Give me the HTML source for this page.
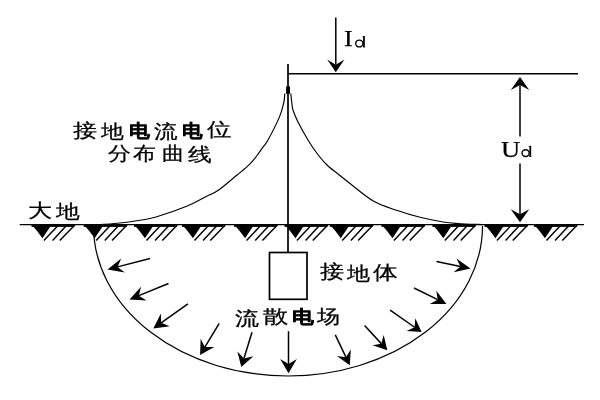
<!DOCTYPE html><html><head><meta charset="utf-8"><style>
html,body{margin:0;padding:0;background:#fff;}
body{width:600px;height:400px;position:relative;overflow:hidden;font-family:"Liberation Sans",sans-serif;color:#000;}
.c{position:absolute;white-space:nowrap;line-height:1;transform-origin:0 0;-webkit-text-stroke:0.25px #000;will-change:transform;}
.s{font-family:"Liberation Serif",serif;}
</style></head><body><svg width="600" height="400" viewBox="0 0 600 400" style="position:absolute;left:0;top:0">
<g stroke="#000" fill="#000" stroke-linecap="butt">
<line x1="288" y1="73.8" x2="578" y2="73.8" stroke-width="1.6"/>
<line x1="288" y1="64" x2="288" y2="252.5" stroke-width="1.7"/>
<rect x="286.1" y="86.4" width="3.9" height="7.4" stroke="none"/>
<path d="M284.80,93.50 C284.63,95.00 284.70,98.57 283.80,102.50 C282.90,106.43 282.03,110.85 279.40,117.10 C276.77,123.35 270.68,135.07 268.00,140.00 C265.32,144.93 265.18,144.03 263.30,146.70 C261.42,149.37 259.03,153.00 256.70,156.00 C254.37,159.00 252.63,161.48 249.30,164.70 C245.97,167.92 241.80,171.08 236.70,175.30 C231.60,179.52 223.70,186.50 218.70,190.00 C213.70,193.50 212.03,193.58 206.70,196.30 C201.37,199.02 195.15,202.85 186.70,206.30 C178.25,209.75 163.78,214.67 156.00,217.00 C148.22,219.33 144.83,219.42 140.00,220.30 C135.17,221.18 131.67,221.72 127.00,222.30 C122.33,222.88 116.83,223.42 112.00,223.80 C107.17,224.18 100.33,224.47 98.00,224.60" fill="none" stroke-width="1.15"/>
<path d="M290.80,93.50 C290.97,95.00 291.43,99.75 291.80,102.50 C292.17,105.25 291.97,106.75 293.00,110.00 C294.03,113.25 295.50,117.00 298.00,122.00 C300.50,127.00 305.00,135.00 308.00,140.00 C311.00,145.00 313.00,148.00 316.00,152.00 C319.00,156.00 322.33,160.33 326.00,164.00 C329.67,167.67 334.00,170.75 338.00,174.00 C342.00,177.25 344.12,179.00 350.00,183.50 C355.88,188.00 365.53,196.53 373.30,201.00 C381.07,205.47 388.82,207.58 396.60,210.30 C404.38,213.02 412.23,215.35 420.00,217.30 C427.77,219.25 436.87,220.97 443.20,222.00 C449.53,223.03 451.53,223.07 458.00,223.50 C464.47,223.93 478.00,224.42 482.00,224.60" fill="none" stroke-width="1.15"/>
<line x1="19.7" y1="224.60" x2="584" y2="224.60" stroke-width="1.4"/>
<path d="M31.50,224.60 Q37.30,231.00 42.50,238.20 L51.70,224.60 Z" stroke="none"/><rect x="31.50" y="224.60" width="43.00" height="2.3" stroke="none"/><line x1="58.50" y1="225.10" x2="43.90" y2="240.50" stroke-width="1.45"/><line x1="66.90" y1="225.10" x2="52.60" y2="240.50" stroke-width="1.45"/><line x1="74.80" y1="225.10" x2="59.80" y2="240.50" stroke-width="1.45"/><path d="M83.70,224.60 Q89.50,231.00 94.70,238.20 L103.90,224.60 Z" stroke="none"/><rect x="83.70" y="224.60" width="43.00" height="2.3" stroke="none"/><line x1="110.70" y1="225.10" x2="96.10" y2="240.50" stroke-width="1.45"/><line x1="119.10" y1="225.10" x2="104.80" y2="240.50" stroke-width="1.45"/><line x1="127.00" y1="225.10" x2="112.00" y2="240.50" stroke-width="1.45"/><path d="M134.00,224.60 Q139.80,231.00 145.00,238.20 L154.20,224.60 Z" stroke="none"/><rect x="134.00" y="224.60" width="43.00" height="2.3" stroke="none"/><line x1="161.00" y1="225.10" x2="146.40" y2="240.50" stroke-width="1.45"/><line x1="169.40" y1="225.10" x2="155.10" y2="240.50" stroke-width="1.45"/><line x1="177.30" y1="225.10" x2="162.30" y2="240.50" stroke-width="1.45"/><path d="M182.00,224.60 Q187.80,231.00 193.00,238.20 L202.20,224.60 Z" stroke="none"/><rect x="182.00" y="224.60" width="43.00" height="2.3" stroke="none"/><line x1="209.00" y1="225.10" x2="194.40" y2="240.50" stroke-width="1.45"/><line x1="217.40" y1="225.10" x2="203.10" y2="240.50" stroke-width="1.45"/><line x1="225.30" y1="225.10" x2="210.30" y2="240.50" stroke-width="1.45"/><path d="M234.10,224.60 Q239.90,231.00 245.10,238.20 L254.30,224.60 Z" stroke="none"/><rect x="234.10" y="224.60" width="43.00" height="2.3" stroke="none"/><line x1="261.10" y1="225.10" x2="246.50" y2="240.50" stroke-width="1.45"/><line x1="269.50" y1="225.10" x2="255.20" y2="240.50" stroke-width="1.45"/><line x1="277.40" y1="225.10" x2="262.40" y2="240.50" stroke-width="1.45"/><path d="M284.50,224.60 Q290.30,231.00 295.50,238.20 L304.70,224.60 Z" stroke="none"/><rect x="284.50" y="224.60" width="43.00" height="2.3" stroke="none"/><line x1="311.50" y1="225.10" x2="296.90" y2="240.50" stroke-width="1.45"/><line x1="319.90" y1="225.10" x2="305.60" y2="240.50" stroke-width="1.45"/><line x1="327.80" y1="225.10" x2="312.80" y2="240.50" stroke-width="1.45"/><path d="M329.80,224.60 Q335.60,231.00 340.80,238.20 L350.00,224.60 Z" stroke="none"/><rect x="329.80" y="224.60" width="43.00" height="2.3" stroke="none"/><line x1="356.80" y1="225.10" x2="342.20" y2="240.50" stroke-width="1.45"/><line x1="365.20" y1="225.10" x2="350.90" y2="240.50" stroke-width="1.45"/><line x1="373.10" y1="225.10" x2="358.10" y2="240.50" stroke-width="1.45"/><path d="M381.50,224.60 Q387.30,231.00 392.50,238.20 L401.70,224.60 Z" stroke="none"/><rect x="381.50" y="224.60" width="43.00" height="2.3" stroke="none"/><line x1="408.50" y1="225.10" x2="393.90" y2="240.50" stroke-width="1.45"/><line x1="416.90" y1="225.10" x2="402.60" y2="240.50" stroke-width="1.45"/><line x1="424.80" y1="225.10" x2="409.80" y2="240.50" stroke-width="1.45"/><path d="M432.40,224.60 Q438.20,231.00 443.40,238.20 L452.60,224.60 Z" stroke="none"/><rect x="432.40" y="224.60" width="43.00" height="2.3" stroke="none"/><line x1="459.40" y1="225.10" x2="444.80" y2="240.50" stroke-width="1.45"/><line x1="467.80" y1="225.10" x2="453.50" y2="240.50" stroke-width="1.45"/><line x1="475.70" y1="225.10" x2="460.70" y2="240.50" stroke-width="1.45"/><path d="M484.50,224.60 Q490.30,231.00 495.50,238.20 L504.70,224.60 Z" stroke="none"/><rect x="484.50" y="224.60" width="43.00" height="2.3" stroke="none"/><line x1="511.50" y1="225.10" x2="496.90" y2="240.50" stroke-width="1.45"/><line x1="519.90" y1="225.10" x2="505.60" y2="240.50" stroke-width="1.45"/><line x1="527.80" y1="225.10" x2="512.80" y2="240.50" stroke-width="1.45"/><path d="M534.00,224.60 Q539.80,231.00 545.00,238.20 L554.20,224.60 Z" stroke="none"/><rect x="534.00" y="224.60" width="43.00" height="2.3" stroke="none"/><line x1="561.00" y1="225.10" x2="546.40" y2="240.50" stroke-width="1.45"/><line x1="569.40" y1="225.10" x2="555.10" y2="240.50" stroke-width="1.45"/><line x1="577.30" y1="225.10" x2="562.30" y2="240.50" stroke-width="1.45"/>
<path d="M93.5,226 A194.5,150 0 0 0 482.5,226" fill="none" stroke-width="1.2"/>
<rect x="269.5" y="252.5" width="37.5" height="46.8" fill="none" stroke-width="1.7"/>
<line x1="335.80" y1="17.40" x2="335.80" y2="64.70" stroke-width="1.50"/><polygon points="335.80,72.20 327.20,59.60 335.80,64.70 344.40,59.60" stroke="none"/>
<line x1="520" y1="85" x2="520" y2="136.5" stroke-width="1.5"/>
<line x1="520" y1="163.5" x2="520" y2="215" stroke-width="1.5"/>
<polygon points="520.00,77.00 529.25,90.00 520.00,85.00 510.75,90.00" stroke="none"/>
<polygon points="520.00,222.30 510.75,209.30 520.00,214.30 529.25,209.30" stroke="none"/>
<line x1="150.00" y1="258.50" x2="117.57" y2="266.89" stroke-width="1.50"/><polygon points="107.50,269.50 121.18,258.50 117.57,266.89 124.80,272.48" stroke="none"/>
<line x1="168.50" y1="283.50" x2="138.82" y2="295.68" stroke-width="1.50"/><polygon points="129.50,299.50 141.05,286.83 138.82,295.68 146.63,300.41" stroke="none"/>
<line x1="187.90" y1="303.90" x2="161.12" y2="322.86" stroke-width="1.50"/><polygon points="153.30,328.40 160.89,313.59 161.12,322.86 169.79,326.16" stroke="none"/>
<line x1="219.20" y1="323.40" x2="204.87" y2="347.04" stroke-width="1.50"/><polygon points="200.10,354.90 200.65,338.68 204.87,347.04 214.23,346.92" stroke="none"/>
<line x1="252.00" y1="332.30" x2="243.94" y2="358.53" stroke-width="1.50"/><polygon points="241.30,367.10 237.36,351.45 243.94,358.53 253.35,356.37" stroke="none"/>
<line x1="288.50" y1="331.20" x2="288.50" y2="363.94" stroke-width="1.50"/><polygon points="288.50,373.20 280.14,358.95 288.50,363.94 296.86,358.95" stroke="none"/>
<line x1="335.30" y1="334.90" x2="345.94" y2="357.14" stroke-width="1.50"/><polygon points="349.80,365.20 336.92,356.12 345.94,357.14 350.81,349.47" stroke="none"/>
<line x1="364.60" y1="325.40" x2="381.29" y2="343.63" stroke-width="1.50"/><polygon points="387.30,350.20 372.41,345.25 381.29,343.63 383.69,334.94" stroke="none"/>
<line x1="390.10" y1="310.10" x2="414.65" y2="327.24" stroke-width="1.50"/><polygon points="421.60,332.10 406.53,330.89 414.65,327.24 415.28,318.36" stroke="none"/>
<line x1="414.00" y1="288.00" x2="437.72" y2="299.68" stroke-width="1.50"/><polygon points="446.50,304.00 429.76,303.94 437.72,299.68 436.24,290.77" stroke="none"/>
<line x1="436.50" y1="261.50" x2="460.44" y2="266.43" stroke-width="1.50"/><polygon points="470.50,268.50 453.60,272.21 460.44,266.43 456.44,258.42" stroke="none"/>
<g stroke="#000" fill="#000"><g transform="translate(0.00,0.00)"><ellipse cx="359.3" cy="43.5" rx="3.6" ry="3.4" fill="none" stroke-width="1.4"/><rect x="363.1" y="36.3" width="1.75" height="11.0" stroke="none"/><path d="M361.6,36.6 L364.85,36.2 L364.85,37.5 Z" stroke="none"/><path d="M363.1,46.3 L365.6,47.3 L363.1,47.3 Z" stroke="none"/></g><g transform="translate(166.30,109.60)"><ellipse cx="359.3" cy="43.5" rx="3.6" ry="3.4" fill="none" stroke-width="1.4"/><rect x="363.1" y="36.3" width="1.75" height="11.0" stroke="none"/><path d="M361.6,36.6 L364.85,36.2 L364.85,37.5 Z" stroke="none"/><path d="M363.1,46.3 L365.6,47.3 L363.1,47.3 Z" stroke="none"/></g></g>
</g></svg>
<div class="c" id="a1" style="left:73.20px;top:120.80px;font-size:19.40px;transform:scaleX(1.270);">接</div>
<div class="c" id="a2" style="left:100.70px;top:121.75px;font-size:19.40px;transform:scaleX(1.201);">地</div>
<div class="c" id="a3" style="left:128.70px;top:121.90px;font-size:18.40px;transform:scaleX(1.157);font-weight:bold;">电</div>
<div class="c" id="a4" style="left:153.70px;top:121.80px;font-size:19.40px;transform:scaleX(1.239);">流</div>
<div class="c" id="a5" style="left:181.80px;top:121.67px;font-size:18.40px;transform:scaleX(1.141);font-weight:bold;">电</div>
<div class="c" id="a6" style="left:207.20px;top:120.30px;font-size:19.40px;transform:scaleX(1.286);">位</div>
<div class="c" id="b1" style="left:107.90px;top:143.60px;font-size:19.40px;transform:scaleX(1.201);">分</div>
<div class="c" id="b2" style="left:133.30px;top:144.40px;font-size:19.40px;transform:scaleX(1.201);">布</div>
<div class="c" id="b3" style="left:162.10px;top:144.30px;font-size:19.40px;transform:scaleX(1.166);">曲</div>
<div class="c" id="b4" style="left:187.50px;top:145.00px;font-size:19.40px;transform:scaleX(1.255);">线</div>
<div class="c" id="c1" style="left:28.00px;top:200.90px;font-size:19.40px;transform:scaleX(1.269);">大</div>
<div class="c" id="c2" style="left:55.80px;top:201.90px;font-size:19.40px;transform:scaleX(1.246);">地</div>
<div class="c" id="d1" style="left:320.00px;top:262.20px;font-size:19.40px;transform:scaleX(1.274);">接</div>
<div class="c" id="d2" style="left:347.10px;top:263.50px;font-size:19.40px;transform:scaleX(1.209);">地</div>
<div class="c" id="d3" style="left:373.40px;top:262.50px;font-size:19.40px;transform:scaleX(1.305);">体</div>
<div class="c" id="e1" style="left:235.40px;top:308.80px;font-size:19.40px;transform:scaleX(1.267);">流</div>
<div class="c" id="e2" style="left:263.30px;top:307.30px;font-size:19.40px;transform:scaleX(1.321);">散</div>
<div class="c" id="e3" style="left:291.70px;top:308.30px;font-size:18.40px;transform:scaleX(1.211);font-weight:bold;">电</div>
<div class="c" id="e4" style="left:317.10px;top:307.10px;font-size:19.40px;transform:scaleX(1.208);">场</div>
<div class="c s" id="i1" style="left:344.10px;top:27.25px;font-size:23.00px;transform:scaleX(1.130);">I</div>
<div class="c s" id="u1" style="left:500.50px;top:138.00px;font-size:23.50px;transform:scaleX(1.130);">U</div></body></html>
